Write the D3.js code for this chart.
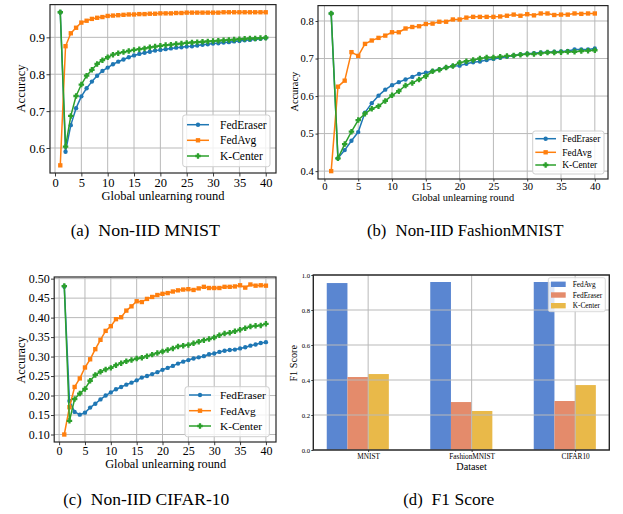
<!DOCTYPE html>
<html>
<head>
<meta charset="utf-8">
<script src="https://cdn.jsdelivr.net/npm/d3@7"></script>
<style>
  html, body { margin: 0; padding: 0; background: #fff; }
  svg { display: block; }
  text { font-family: "Liberation Serif", "Times New Roman", serif; fill: #000; }
</style>
</head>
<body>
<script>
// ---------------- DATA ----------------
const rounds = [1,2,3,4,5,6,7,8,9,10,11,12,13,14,15,16,17,18,19,20,
                21,22,23,24,25,26,27,28,29,30,31,32,33,34,35,36,37,38,39,40];
const roundTicks = [0,5,10,15,20,25,30,35,40];
const seriesNames = ["FedEraser", "FedAvg", "K-Center"];

// (a) Non-IID MNIST
const mnistFedEraser = [0.968,0.590,0.662,0.708,0.740,0.762,0.780,0.796,0.809,0.818,0.827,0.834,0.840,0.846,0.851,0.855,0.858,0.861,0.864,0.866,
                        0.868,0.870,0.872,0.873,0.875,0.876,0.878,0.880,0.881,0.883,0.884,0.886,0.887,0.889,0.890,0.892,0.893,0.895,0.896,0.898];
const mnistFedAvg    = [0.553,0.876,0.911,0.926,0.940,0.945,0.950,0.953,0.955,0.958,0.959,0.960,0.961,0.962,0.962,0.963,0.963,0.964,0.964,0.965,
                        0.965,0.965,0.966,0.966,0.967,0.967,0.967,0.967,0.967,0.967,0.967,0.968,0.968,0.968,0.968,0.968,0.968,0.968,0.968,0.968];
const mnistKCenter   = [0.968,0.604,0.687,0.741,0.772,0.796,0.812,0.828,0.838,0.846,0.853,0.857,0.860,0.863,0.866,0.868,0.870,0.873,0.875,0.877,
                        0.879,0.880,0.882,0.883,0.885,0.886,0.887,0.888,0.889,0.890,0.891,0.892,0.893,0.894,0.895,0.896,0.897,0.897,0.898,0.899];
const mnistYTicks = [0.6, 0.7, 0.8, 0.9];

// (b) Non-IID FashionMNIST
const fashionFedEraser = [0.820,0.434,0.456,0.481,0.504,0.556,0.581,0.601,0.617,0.629,0.637,0.644,0.651,0.659,0.662,0.667,0.671,0.676,0.680,0.681,
                          0.686,0.690,0.692,0.696,0.699,0.702,0.705,0.708,0.711,0.713,0.714,0.716,0.717,0.718,0.719,0.720,0.724,0.724,0.724,0.727];
const fashionFedAvg    = [0.400,0.625,0.641,0.717,0.707,0.739,0.748,0.755,0.761,0.770,0.770,0.780,0.784,0.786,0.792,0.793,0.798,0.798,0.804,0.804,
                          0.809,0.811,0.811,0.811,0.811,0.812,0.814,0.817,0.814,0.818,0.815,0.820,0.820,0.816,0.817,0.817,0.820,0.819,0.820,0.820];
const fashionKCenter   = [0.820,0.434,0.472,0.505,0.536,0.553,0.566,0.573,0.587,0.602,0.613,0.628,0.635,0.644,0.653,0.666,0.670,0.676,0.680,0.689,
                          0.693,0.696,0.700,0.703,0.703,0.705,0.707,0.708,0.710,0.712,0.712,0.714,0.716,0.716,0.717,0.718,0.718,0.720,0.721,0.722];
const fashionYTicks = [0.4, 0.5, 0.6, 0.7, 0.8];

// (c) Non-IID CIFAR-10
const cifarFedEraser = [0.480,0.186,0.158,0.151,0.156,0.169,0.179,0.190,0.200,0.208,0.216,0.222,0.228,0.233,0.239,0.246,0.250,0.255,0.260,0.266,
                        0.271,0.276,0.282,0.287,0.291,0.295,0.298,0.301,0.306,0.308,0.312,0.315,0.317,0.318,0.321,0.324,0.328,0.331,0.335,0.337];
const cifarFedAvg    = [0.100,0.170,0.222,0.244,0.272,0.293,0.319,0.343,0.366,0.378,0.396,0.401,0.418,0.429,0.442,0.440,0.448,0.453,0.458,0.461,
                        0.463,0.467,0.470,0.472,0.473,0.471,0.475,0.479,0.476,0.476,0.476,0.479,0.479,0.480,0.483,0.477,0.485,0.482,0.483,0.482];
const cifarKCenter   = [0.481,0.135,0.191,0.205,0.217,0.238,0.253,0.261,0.267,0.271,0.278,0.283,0.288,0.291,0.295,0.297,0.301,0.305,0.309,0.313,
                        0.317,0.321,0.326,0.328,0.330,0.334,0.338,0.342,0.345,0.349,0.355,0.359,0.361,0.365,0.369,0.373,0.377,0.379,0.380,0.384];
const cifarYTicks = [0.10, 0.15, 0.20, 0.25, 0.30, 0.35, 0.40, 0.45, 0.50];

// (d) F1 Score
const f1Datasets = ["MNIST", "FashionMNIST", "CIFAR10"];
const f1Names = ["FedAvg", "FedEraser", "K-Center"];
const f1FedAvg    = [0.954, 0.960, 0.960];
const f1FedEraser = [0.417, 0.274, 0.280];
const f1KCenter   = [0.434, 0.223, 0.371];
const f1YTicks = [0.0, 0.2, 0.4, 0.6, 0.8, 1.0];

// ---------------- DRAWING ----------------
const W = 623, H = 514;
const svg = d3.select("body").append("svg").attr("width", W).attr("height", H);
svg.append("rect").attr("width", W).attr("height", H).attr("fill", "#fff");

// thick filled plus (matplotlib "P")
const symbolThickPlus = {
  draw(ctx, size) {
    const s = Math.sqrt(size) / 2;   // half-width
    const a = s * 0.42;              // half arm thickness
    ctx.moveTo(-a, -s); ctx.lineTo(a, -s); ctx.lineTo(a, -a); ctx.lineTo(s, -a);
    ctx.lineTo(s, a); ctx.lineTo(a, a); ctx.lineTo(a, s); ctx.lineTo(-a, s);
    ctx.lineTo(-a, a); ctx.lineTo(-s, a); ctx.lineTo(-s, -a); ctx.lineTo(-a, -a);
    ctx.closePath();
  }
};

const lineColors = ["#1f77b4", "#ff7f0e", "#2ca02c"];
const lineSymbols = [
  d3.symbol().type(d3.symbolCircle).size(15),
  d3.symbol().type(d3.symbolSquare).size(19),
  d3.symbol().type(symbolThickPlus).size(30)
];
const GRID = "#b9b9b9";
const FRAME = "#262626";

function styleAxis(sel, fs) {
  sel.select(".domain").remove();
  sel.selectAll(".tick line").attr("stroke", FRAME).attr("stroke-width", 0.9);
  sel.selectAll(".tick text").attr("font-size", fs).attr("fill", "#000")
     .style("font-family", '"Liberation Serif", "Times New Roman", serif');
}

function linePanel(cfg) {
  const g = svg.append("g");
  const xe = d3.extent(rounds), xp = (xe[1] - xe[0]) * 0.05;
  const x = d3.scaleLinear().domain([xe[0] - xp, xe[1] + xp]).range([cfg.l, cfg.r]);
  const allV = cfg.series.flat();
  const ye = d3.extent(allV), yp = (ye[1] - ye[0]) * 0.05;
  const y = d3.scaleLinear().domain([ye[0] - yp, ye[1] + yp]).range([cfg.b, cfg.t]);

  // grid
  g.append("g").selectAll("line").data(roundTicks).join("line")
    .attr("x1", d => x(d)).attr("x2", d => x(d)).attr("y1", cfg.t).attr("y2", cfg.b)
    .attr("stroke", GRID).attr("stroke-width", 1);
  g.append("g").selectAll("line").data(cfg.yTicks).join("line")
    .attr("x1", cfg.l).attr("x2", cfg.r).attr("y1", d => y(d)).attr("y2", d => y(d))
    .attr("stroke", GRID).attr("stroke-width", 1);

  // series
  cfg.series.forEach((vals, k) => {
    const pts = rounds.map((r, i) => [r, vals[i]]);
    g.append("path").datum(pts)
      .attr("d", d3.line().x(d => x(d[0])).y(d => y(d[1])))
      .attr("fill", "none").attr("stroke", lineColors[k]).attr("stroke-width", 1.5)
      .attr("stroke-linejoin", "round");
    g.append("g").selectAll("path").data(pts).join("path")
      .attr("d", lineSymbols[k]())
      .attr("transform", d => `translate(${x(d[0])},${y(d[1])})`)
      .attr("fill", lineColors[k]);
  });

  // frame
  g.append("rect").attr("x", cfg.l).attr("y", cfg.t)
    .attr("width", cfg.r - cfg.l).attr("height", cfg.b - cfg.t)
    .attr("fill", "none").attr("stroke", FRAME).attr("stroke-width", 1.2);

  // axes
  const ax = g.append("g").attr("transform", `translate(0,${cfg.b})`)
    .call(d3.axisBottom(x).tickValues(roundTicks).tickSize(cfg.ts).tickPadding(cfg.xpad).tickFormat(d3.format("d")));
  styleAxis(ax, cfg.tickFs);
  const ay = g.append("g").attr("transform", `translate(${cfg.l},0)`)
    .call(d3.axisLeft(y).tickValues(cfg.yTicks).tickSize(cfg.ts).tickPadding(cfg.ypad).tickFormat(d3.format(cfg.yFmt)));
  styleAxis(ay, cfg.tickFs);

  // labels
  g.append("text").attr("x", cfg.xlx).attr("y", cfg.xly).attr("text-anchor", "middle")
    .attr("font-size", cfg.labelFs).text("Global unlearning round");
  g.append("text").attr("transform", `translate(${cfg.ylx},${cfg.yly}) rotate(-90)`)
    .attr("text-anchor", "middle").attr("font-size", cfg.labelFs).text("Accuracy");

  // legend
  const L = cfg.legend;
  g.append("rect").attr("x", L.x0).attr("y", L.y0).attr("width", L.x1 - L.x0).attr("height", L.y1 - L.y0)
    .attr("rx", 2.5).attr("fill", "#fff").attr("fill-opacity", 0.8)
    .attr("stroke", "#cfcfcf").attr("stroke-width", 1);
  seriesNames.forEach((name, k) => {
    const yy = L.rows[k];
    g.append("line").attr("x1", L.lx0).attr("x2", L.lx1).attr("y1", yy).attr("y2", yy)
      .attr("stroke", lineColors[k]).attr("stroke-width", 1.5);
    g.append("path").attr("d", lineSymbols[k]())
      .attr("transform", `translate(${(L.lx0 + L.lx1) / 2},${yy})`).attr("fill", lineColors[k]);
    g.append("text").attr("x", L.tx).attr("y", yy).attr("dy", "0.35em")
      .attr("font-size", L.fs).text(name);
  });
}

linePanel({
  l: 50, r: 276, t: 4.6, b: 173,
  series: [mnistFedEraser, mnistFedAvg, mnistKCenter],
  yTicks: mnistYTicks, yFmt: ".1f",
  ts: 3.5, xpad: 1.4, ypad: 1.5, tickFs: 12.5, labelFs: 12.5,
  xlx: 163, xly: 199.6, ylx: 24.5, yly: 88.5,
  legend: { x0: 182.7, x1: 270, y0: 115, y1: 166.7, rows: [124.7, 140.3, 156],
            lx0: 187, lx1: 209, tx: 220, fs: 11.5 }
});

linePanel({
  l: 318, r: 608, t: 5.6, b: 179,
  series: [fashionFedEraser, fashionFedAvg, fashionKCenter],
  yTicks: fashionYTicks, yFmt: ".1f",
  ts: 2.5, xpad: 0.6, ypad: 1.8, tickFs: 10.6, labelFs: 10.4,
  xlx: 463, xly: 201, ylx: 297.5, yly: 91.7,
  legend: { x0: 532.7, x1: 604, y0: 131, y1: 174, rows: [138.7, 152.3, 165],
            lx0: 535.3, lx1: 556, tx: 562.3, fs: 9.4 }
});

linePanel({
  l: 54.2, r: 276, t: 277, b: 442,
  series: [cifarFedEraser, cifarFedAvg, cifarKCenter],
  yTicks: cifarYTicks, yFmt: ".2f",
  ts: 3.2, xpad: 1.3, ypad: 1.2, tickFs: 12, labelFs: 12.3,
  xlx: 165.7, xly: 468.3, ylx: 25.4, yly: 360,
  legend: { x0: 185, x1: 269.3, y0: 386.7, y1: 436.7, rows: [395, 410.7, 426],
            lx0: 189, lx1: 211, tx: 220, fs: 11.3 }
});

// ---- (d) bar chart ----
(function barPanel() {
  const l = 313.3, r = 609.3, t = 275, b = 450;
  const g = svg.append("g");
  const barW = 0.2;
  const offsets = [-0.4, -0.2, 0.0];
  const xmin = 0 + offsets[0], xmax = (f1Datasets.length - 1) + offsets[2] + barW;
  const xp = (xmax - xmin) * 0.05;
  const x = d3.scaleLinear().domain([xmin - xp, xmax + xp]).range([l, r]);
  const y = d3.scaleLinear().domain([0, 1]).range([b, t]);
  const colors = ["#5a86d1", "#e48b6b", "#e9b949"];
  const vals = [f1FedAvg, f1FedEraser, f1KCenter];

  vals.forEach((arr, k) => {
    g.append("g").selectAll("rect").data(arr).join("rect")
      .attr("x", (d, i) => x(i + offsets[k]))
      .attr("width", (d, i) => x(i + offsets[k] + barW) - x(i + offsets[k]))
      .attr("y", d => y(d)).attr("height", d => y(0) - y(d))
      .attr("fill", colors[k]);
  });

  // grid over bars
  g.append("g").selectAll("line").data(f1Datasets.map((d, i) => i)).join("line")
    .attr("x1", d => x(d)).attr("x2", d => x(d)).attr("y1", t).attr("y2", b)
    .attr("stroke", GRID).attr("stroke-width", 1);
  g.append("g").selectAll("line").data(f1YTicks).join("line")
    .attr("x1", l).attr("x2", r).attr("y1", d => y(d)).attr("y2", d => y(d))
    .attr("stroke", GRID).attr("stroke-width", 1);

  g.append("rect").attr("x", l).attr("y", t).attr("width", r - l).attr("height", b - t)
    .attr("fill", "none").attr("stroke", FRAME).attr("stroke-width", 1.4);

  const ax = g.append("g").attr("transform", `translate(0,${b})`)
    .call(d3.axisBottom(x).tickValues(f1Datasets.map((d, i) => i)).tickSize(2).tickPadding(2.1)
      .tickFormat(i => f1Datasets[i]));
  styleAxis(ax, 7.3);
  const ay = g.append("g").attr("transform", `translate(${l},0)`)
    .call(d3.axisLeft(y).tickValues(f1YTicks).tickSize(2).tickPadding(1.3).tickFormat(d3.format(".1f")));
  styleAxis(ay, 6.7);

  g.append("text").attr("x", x(1)).attr("y", 470.3).attr("text-anchor", "middle")
    .attr("font-size", 10.2).text("Dataset");
  g.append("text").attr("transform", `translate(297,363.3) rotate(-90)`)
    .attr("text-anchor", "middle").attr("font-size", 10.2).text("F1 Score");

  // legend
  g.append("rect").attr("x", 548.3).attr("y", 277.7).attr("width", 57).attr("height", 34)
    .attr("rx", 2).attr("fill", "#fff").attr("fill-opacity", 0.8)
    .attr("stroke", "#d0d0d0").attr("stroke-width", 0.8);
  const rows = [284.3, 295, 305.7];
  f1Names.forEach((name, k) => {
    g.append("rect").attr("x", 551).attr("y", rows[k] - 2.7).attr("width", 14.7).attr("height", 5.4)
      .attr("fill", colors[k]);
    g.append("text").attr("x", 572.7).attr("y", rows[k]).attr("dy", "0.35em")
      .attr("font-size", 7.3).text(name);
  });
})();

// ---- captions ----
const captions = [
  { tag: "(a)", title: "Non-IID MNIST",        x0: 70.7,  tagLen: 18.6, tx: 98.3,  titleLen: 121.7, y: 235.7 },
  { tag: "(b)", title: "Non-IID FashionMNIST", x0: 367,   tagLen: 19.4, tx: 395.5, titleLen: 168,   y: 235.7 },
  { tag: "(c)", title: "Non-IID CIFAR-10",     x0: 63.3,  tagLen: 18.4, tx: 90.8,  titleLen: 138.5, y: 504.5 },
  { tag: "(d)", title: "F1 Score",             x0: 403.3, tagLen: 19.4, tx: 431.6, titleLen: 62.7,  y: 504.5 }
];
captions.forEach(c => {
  svg.append("text").attr("x", c.x0).attr("y", c.y).attr("font-size", 16.3)
    .attr("textLength", c.tagLen).attr("lengthAdjust", "spacingAndGlyphs").text(c.tag);
  svg.append("text").attr("x", c.tx).attr("y", c.y).attr("font-size", 16.3)
    .attr("textLength", c.titleLen).attr("lengthAdjust", "spacingAndGlyphs").text(c.title);
});
</script>
</body>
</html>
